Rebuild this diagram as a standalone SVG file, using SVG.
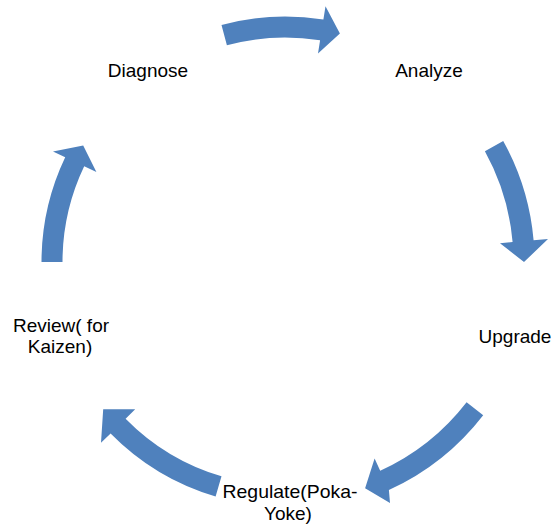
<svg xmlns="http://www.w3.org/2000/svg" width="556" height="525" viewBox="0 0 556 525">
<style>
.arr{fill:#4F81BD;stroke:none}
.lbl{font-family:"Liberation Sans",Arial,sans-serif;font-size:19px;fill:#000;text-anchor:middle}
</style>
<rect width="556" height="525" fill="#fff"/>
<g id="connectors">
<path class="arr" d="M221.5,24.9 A245.5,245.5 0 0 1 323.4,19.5 L325.5,6.2 L339.9,33.5 L318,53.6 L320.1,40.3 A224.5,224.5 0 0 0 226.9,45.2 Z"/>
<path class="arr" d="M503.2,141.0 A249.5,249.5 0 0 1 533.6,240.3 L548,239.1 L524,262 L500,243.3 L512.6,242.1 A228.5,228.5 0 0 0 484.9,151.2 Z"/>
<path class="arr" d="M483.2,415.2 A250.5,250.5 0 0 1 388.9,490.0 L390,503 L365.1,488.2 L374.6,458.6 L380.2,470.8 A229.5,229.5 0 0 0 466.6,402.3 Z"/>
<path class="arr" d="M215.6,496.4 A244.5,244.5 0 0 1 110.6,433.4 L101,442.8 L103.2,409.3 L135.2,409.2 L125.6,418.7 A223.5,223.5 0 0 0 221.5,476.3 Z"/>
<path class="arr" d="M41.5,262 A243.5,243.5 0 0 1 65.2,157.2 L53,151.4 L83.2,145.5 L96.4,172.0 L84.2,166.2 A222.5,222.5 0 0 0 62.5,262 Z"/>
</g>
<g id="diagnose"><text class="lbl" x="148" y="77">Diagnose</text></g>
<g id="analyze"><text class="lbl" x="429" y="77">Analyze</text></g>
<g id="upgrade"><text class="lbl" x="515" y="343">Upgrade</text></g>
<g id="regulate"><text class="lbl" x="290" y="498" textLength="135" lengthAdjust="spacingAndGlyphs">Regulate(Poka-</text><text class="lbl" x="288" y="520">Yoke)</text></g>
<g id="review"><text class="lbl" x="61" y="332">Review( for</text><text class="lbl" x="60" y="353">Kaizen)</text></g>
</svg>
